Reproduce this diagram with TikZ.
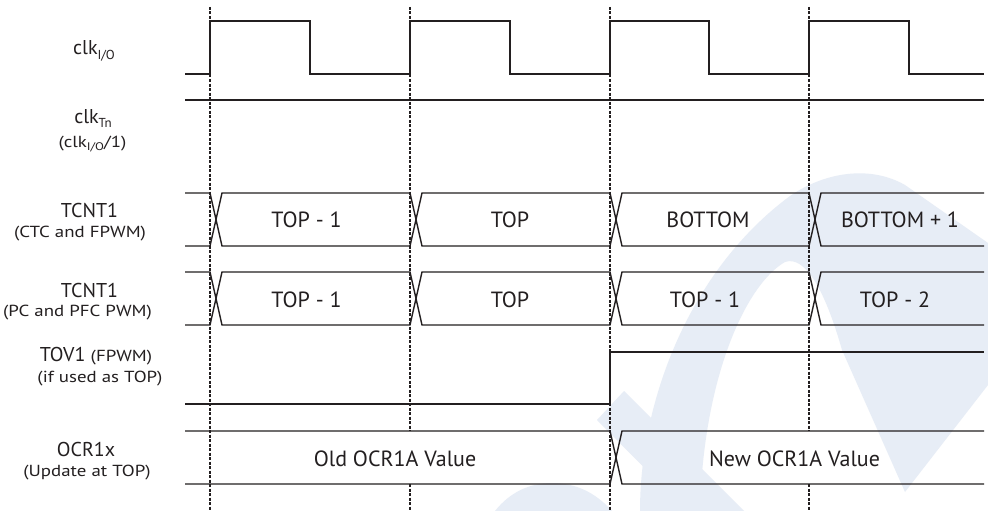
\documentclass[tikz,border=0pt]{standalone}
\usepackage{fontspec}
\setmainfont{PT Sans}
\newfontfamily\subfam[FakeStretch=1.18]{PT Sans}
\definecolor{wm}{RGB}{231,237,246}
\definecolor{ink}{RGB}{35,31,32}
\newcommand\lowsub[2]{\raisebox{-0.42ex}{\fontsize{#1}{#1}\selectfont #2}}
\begin{document}
\begin{tikzpicture}[x=1pt,y=-1pt,
  sig/.style={ink,line width=1.4pt,line join=miter},
  gridline/.style={ink,line width=1.1pt,dash pattern=on 3pt off 1.5pt},
  lab/.style={anchor=base,inner sep=0pt,text=ink,font=\fontsize{20}{24}\selectfont},
  sublab/.style={anchor=base,inner sep=0pt,text=ink,font=\subfam\fontsize{16}{19}\selectfont},
  val/.style={anchor=base,inner sep=0pt,text=ink,font=\fontsize{22}{26}\selectfont}]
\useasboundingbox (0,0) rectangle (988,511);
\fill[white] (0,0) rectangle (988,511);
% watermark
\fill[wm] (640,511) .. controls (640,400) and (690,270) .. (790,196)
  .. controls (825,172) and (870,165) .. (905,185) -- (988,243) -- (988,385) -- (905,492)
  -- (842,350) .. controls (825,290) and (805,255) .. (785,262)
  .. controls (745,285) and (703,380) .. (700,511) -- cycle;
\fill[wm] (597,420) -- (624,391) -- (744,511) -- (687,511) -- cycle;
\fill[wm] (495,511) .. controls (510,492) and (530,483) .. (552,483)
  .. controls (575,483) and (595,492) .. (612,511) -- cycle;
% dashed time markers
\foreach \t in {210,610} \draw[gridline] (\t,7) -- (\t,511);
\foreach \t in {410,809} {
  \draw[gridline] (\t,7) -- (\t,431);
  \draw[gridline] (\t,484) -- (\t,511);
}
% clk I/O
\draw[sig] (185,74) -- (210,74) -- (210,21) -- (310,21) -- (310,74) -- (410,74) -- (410,21)
  -- (510,21) -- (510,74) -- (610,74) -- (610,21) -- (709,21) -- (709,74) -- (809,74)
  -- (809,21) -- (909,21) -- (909,74) -- (984,74);
% clk Tn
\draw[sig] (185,100) -- (984,100);
% TCNT1 CTC
\draw[sig] (185,193) -- (210,193) -- (222,246) -- (410,246) -- (422,193) -- (610,193) -- (622,246) -- (809,246) -- (821,193) -- (984,193);
\draw[sig] (185,246) -- (210,246) -- (222,193) -- (410,193) -- (422,246) -- (610,246) -- (622,193) -- (809,193) -- (821,246) -- (984,246);
% TCNT1 PC
\draw[sig] (185,272) -- (210,272) -- (222,325) -- (410,325) -- (422,272) -- (610,272) -- (622,325) -- (809,325) -- (821,272) -- (984,272);
\draw[sig] (185,325) -- (210,325) -- (222,272) -- (410,272) -- (422,325) -- (610,325) -- (622,272) -- (809,272) -- (821,325) -- (984,325);
% TOV1
\draw[sig] (185,404) -- (610,404) -- (610,352) -- (984,352);
% OCR1x
\draw[sig] (185,431) -- (610,431) -- (622,484) -- (984,484);
\draw[sig] (185,484) -- (610,484) -- (622,431) -- (984,431);
% left labels
\node[lab] (lclkio) at (94,55) {clk\lowsub{13}{I/O}};
\node[lab] (lclktn) at (93,123) {clk\lowsub{13}{Tn}};
\node[sublab] (lclktns) at (92.5,147) {(clk\lowsub{11}{I/O}/1)};
\node[lab] (ltcnta) at (89.5,217) {TCNT1};
\node[sublab] (ltcntas) at (80,237) {(CTC and FPWM)};
\node[lab] (ltcntb) at (89.5,297) {TCNT1};
\node[sublab] (ltcntbs) at (77.5,316) {(PC and PFC PWM)};
\node[lab] (ltov) at (96,361) {TOV1 {\subfam\fontsize{16}{19}\selectfont(FPWM)}};
\node[sublab] (ltovs) at (100,382) {(if used as TOP)};
\node[lab] (locr) at (86,456) {OCR1x};
\node[sublab] (locrs) at (87,476) {(Update at TOP)};
% values
\node[val] (va1) at (306.5,227) {TOP - 1};
\node[val] (va2) at (510,227) {TOP};
\node[val] (va3) at (708,227) {BOTTOM};
\node[val] (va4) at (900,227) {BOTTOM + 1};
\node[val] (vb1) at (306.5,307) {TOP - 1};
\node[val] (vb2) at (510,307) {TOP};
\node[val] (vb3) at (705,307) {TOP - 1};
\node[val] (vb4) at (895,307) {TOP - 2};
\node[val] (vc1) at (395,466) {Old OCR1A Value};
\node[val] (vc2) at (794.5,466) {New OCR1A Value};
\end{tikzpicture}
\end{document}
